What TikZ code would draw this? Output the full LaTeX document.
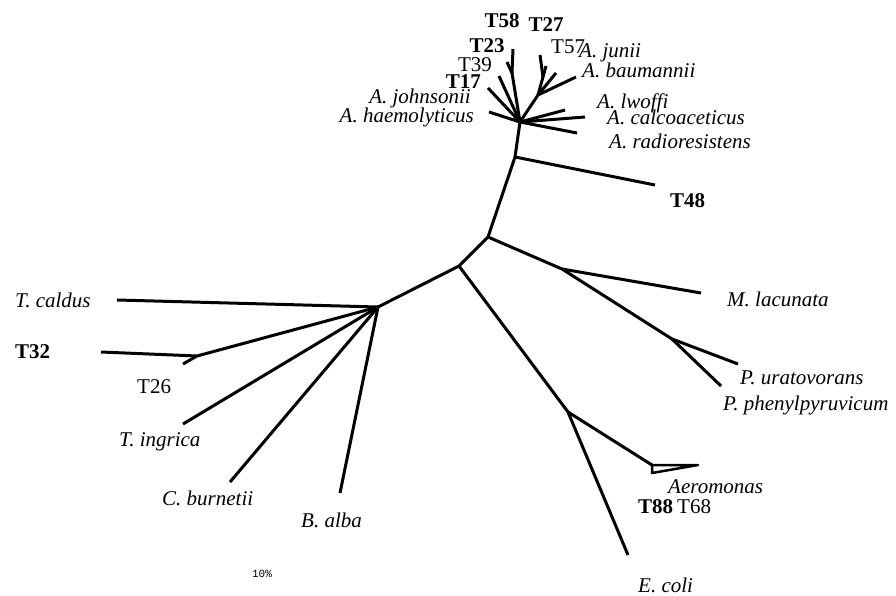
\documentclass[tikz,border=0pt]{standalone}
\usepackage{fontspec}
\setmainfont{Liberation Serif}
\setmonofont{Liberation Mono}
\begin{document}
\begin{tikzpicture}[x=1pt,y=-1pt,
  br/.style={line width=3pt, line join=round},
  sp/.style={font=\fontsize{21}{22}\selectfont\itshape, inner sep=0pt},
  st/.style={font=\fontsize{21}{22}\selectfont, inner sep=0pt},
  stb/.style={font=\fontsize{21}{22}\selectfont\bfseries, inner sep=0pt},
  sc/.style={font=\fontsize{11}{11}\selectfont\ttfamily, inner sep=0pt}]
\useasboundingbox (0,0) rectangle (896,595);
% internal nodes
\coordinate (A) at (378,307);
\coordinate (B) at (459,266);
\coordinate (C) at (488,237);
\coordinate (D) at (515,157);
\coordinate (E) at (520,122);
\coordinate (F) at (562,269);
\coordinate (G) at (672,339);
\coordinate (H) at (568,412);
\coordinate (J) at (197,356);
\coordinate (K) at (538,95);
\coordinate (L) at (543,77);
\coordinate (M) at (512,73);
% tips
\coordinate (tcal) at (117,300);
\coordinate (t32) at (101,352);
\coordinate (t26) at (183,364);
\coordinate (ting) at (183,424);
\coordinate (cbur) at (230,482);
\coordinate (balb) at (340,493);
\coordinate (ecol) at (628,555);
\coordinate (aer) at (652,465);
\coordinate (aer2) at (698,465);
\coordinate (aer3) at (652,473);
\coordinate (mlac) at (701,293);
\coordinate (pura) at (738,364);
\coordinate (pphe) at (721,386);
\coordinate (t48) at (655,185);
\coordinate (ahae) at (489,112);
\coordinate (ajoh) at (488,88);
\coordinate (t39) at (499,76);
\coordinate (t58) at (513,49);
\coordinate (t23) at (507,62);
\coordinate (t27) at (540,55);
\coordinate (t57) at (546,66);
\coordinate (ajun) at (556,73);
\coordinate (abau) at (576,77);
\coordinate (alwo) at (565,110);
\coordinate (acal) at (585,117);
\coordinate (arad) at (577,133);
% branches
\draw[br] (A) -- (B);
\draw[br] (B) -- (C);
\draw[br] (C) -- (D);
\draw[br] (D) -- (E);
\draw[br] (D) -- (t48);
\draw[br] (C) -- (F);
\draw[br] (F) -- (mlac);
\draw[br] (F) -- (G);
\draw[br] (G) -- (pura);
\draw[br] (G) -- (pphe);
\draw[br] (B) -- (H);
\draw[br] (H) -- (ecol);
\draw[br] (H) -- (aer);
\draw[line width=2.5pt, line join=round] (aer) -- (aer2) -- (aer3) -- cycle;
\draw[br] (A) -- (tcal);
\draw[br] (A) -- (J);
\draw[br] (J) -- (t32);
\draw[br] (J) -- (t26);
\draw[br] (A) -- (ting);
\draw[br] (A) -- (cbur);
\draw[br] (A) -- (balb);
\draw[br] (E) -- (ahae);
\draw[br] (E) -- (ajoh);
\draw[br] (E) -- (t39);
\draw[br] (E) -- (M);
\draw[br] (M) -- (t58);
\draw[br] (M) -- (t23);
\draw[br] (E) -- (K);
\draw[br] (K) -- (L);
\draw[br] (L) -- (t27);
\draw[br] (L) -- (t57);
\draw[br] (K) -- (ajun);
\draw[br] (K) -- (abau);
\draw[br] (E) -- (alwo);
\draw[br] (E) -- (acal);
\draw[br] (E) -- (arad);
% labels
\node[stb] (lt58) at (502,21) {T58};
\node[stb] (lt27) at (546,25) {T27};
\node[stb] (lt23) at (487,46) {T23};
\node[st, anchor=west] (lt57) at (551,47) {T57};
\node[sp, anchor=west] (lajun) at (579,53) {A. junii};
\node[sp, anchor=west] (labau) at (582,70) {A. baumannii};
\node[st] (lt39) at (475,65) {T39};
\node[stb, anchor=east] (lt17) at (481,82) {T17};
\node[sp, anchor=east] (lajoh) at (471,98) {A. johnsonii};
\node[sp, anchor=east] (lahae) at (474,117) {A. haemolyticus};
\node[sp, anchor=west] (lalwo) at (597,103) {A. lwoffi};
\node[sp, anchor=west] (lacal) at (607,117) {A. calcoaceticus};
\node[sp, anchor=west] (larad) at (609,141) {A. radioresistens};
\node[stb, anchor=west] (lt48) at (670,201) {T48};
\node[sp, anchor=west] (lmlac) at (727,299) {M. lacunata};
\node[sp, anchor=west] (lpura) at (740,378) {P. uratovorans};
\node[sp, anchor=west] (lpphe) at (723,405) {P. phenylpyruvicum};
\node[sp, anchor=west] (laer) at (668,487) {Aeromonas};
\node[stb, anchor=west] (lt88) at (638,507) {T88};
\node[st, anchor=west] (lt68) at (677,507) {T68};
\node[sp, anchor=west] (lecol) at (638,585) {E. coli};
\node[sp, anchor=west] (lbalb) at (301,520) {B. alba};
\node[sp, anchor=west] (lcbur) at (162,498) {C. burnetii};
\node[sp, anchor=west] (lting) at (119,442) {T. ingrica};
\node[st, anchor=west] (lt26) at (137,387) {T26};
\node[stb, anchor=west] (lt32) at (15,352) {T32};
\node[sp, anchor=west] (ltcal) at (15,300) {T. caldus};
\node[sc] (lscale) at (262,574) {10\%};
\end{tikzpicture}
\end{document}
